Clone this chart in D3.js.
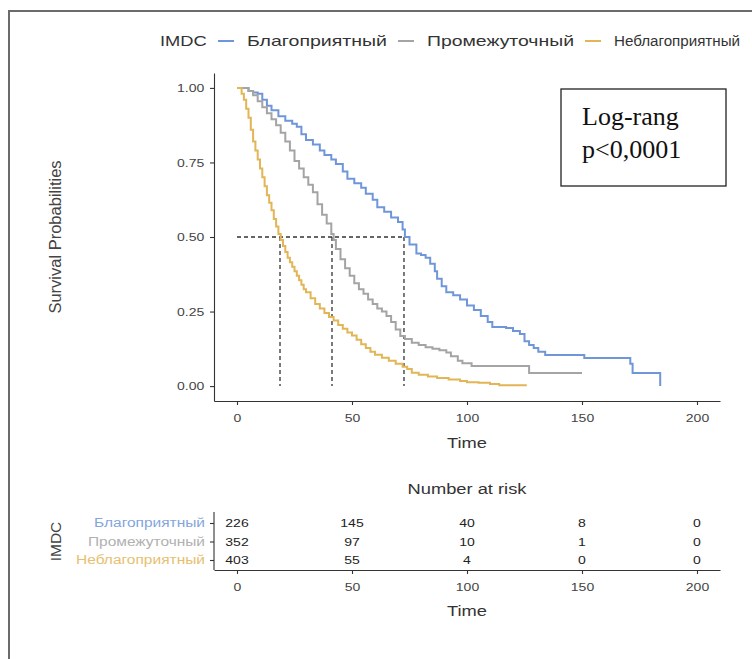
<!DOCTYPE html>
<html>
<head>
<meta charset="utf-8">
<script src="https://cdn.jsdelivr.net/npm/d3@7"></script>
<style>
  body { margin: 0; background: #fff; }
  svg { font-family: "Liberation Sans", Arial, sans-serif; }
</style>
</head>
<body>
<div id="chart"></div>
<script>
const groups = ["Благоприятный", "Промежуточный", "Неблагоприятный"];
const colors = ["#6f96d8", "#a4a4a4", "#e2b556"];

// Kaplan-Meier steps: [time, survival]
const favorable = [
  [0, 1], [2, 1], [5, 0.99], [7, 0.985], [9, 0.98], [11, 0.96], [13, 0.94], [15, 0.925],
  [18, 0.905], [21, 0.89], [24, 0.88], [26, 0.87], [28, 0.845], [30, 0.825], [33, 0.81],
  [36, 0.79], [38, 0.775], [41, 0.76], [43, 0.745], [46, 0.72], [48, 0.695], [51, 0.68],
  [54, 0.665], [56, 0.645], [59, 0.625], [61, 0.6], [64, 0.585], [67, 0.565], [70, 0.55],
  [72, 0.525], [73, 0.5], [75, 0.475], [78, 0.445], [80, 0.44], [82, 0.43], [84, 0.41],
  [86, 0.385], [87, 0.36], [89, 0.335], [91, 0.315], [94, 0.305], [97, 0.29], [100, 0.27],
  [103, 0.255], [106, 0.235], [109, 0.215], [111, 0.198], [117, 0.195], [120, 0.185],
  [123, 0.175], [125, 0.15], [127, 0.138], [129, 0.128], [131, 0.115], [134, 0.104],
  [151, 0.094], [171, 0.075], [172, 0.044], [184, 0]
];
const intermediate = [
  [0, 1], [3, 1], [5, 0.99], [7, 0.975], [9, 0.955], [11, 0.935], [13, 0.915], [15, 0.895],
  [17, 0.875], [19, 0.85], [21, 0.82], [23, 0.79], [25, 0.755], [27, 0.73], [29, 0.7],
  [31, 0.675], [33, 0.65], [35, 0.61], [37, 0.575], [39, 0.545], [41, 0.51], [42, 0.49],
  [43, 0.46], [45, 0.425], [47, 0.395], [49, 0.37], [51, 0.345], [53, 0.325], [55, 0.31],
  [57, 0.29], [59, 0.275], [61, 0.26], [63, 0.25], [65, 0.235], [67, 0.215], [69, 0.19],
  [71, 0.168], [73, 0.158], [76, 0.145], [79, 0.138], [82, 0.13], [85, 0.125], [88, 0.12],
  [91, 0.113], [93, 0.1], [96, 0.085], [98, 0.077], [102, 0.067], [127, 0.044], [150, 0.044]
];
const poor = [
  [0, 1], [2, 0.98], [3, 0.96], [4, 0.93], [5, 0.9], [6, 0.86], [7, 0.82], [8, 0.79],
  [9, 0.76], [10, 0.73], [11, 0.7], [12, 0.67], [13, 0.64], [14, 0.615], [15, 0.59],
  [16, 0.56], [17, 0.535], [18, 0.51], [19, 0.49], [20, 0.47], [21, 0.45], [22, 0.43],
  [23, 0.415], [24, 0.4], [25, 0.385], [26, 0.37], [27, 0.355], [28, 0.34], [29, 0.325],
  [30, 0.315], [32, 0.295], [34, 0.275], [36, 0.26], [38, 0.245], [40, 0.232], [42, 0.22],
  [44, 0.205], [46, 0.192], [48, 0.18], [50, 0.17], [52, 0.155], [54, 0.14], [56, 0.128],
  [58, 0.115], [60, 0.105], [63, 0.095], [66, 0.085], [69, 0.075], [72, 0.065], [74, 0.057],
  [76, 0.045], [79, 0.038], [83, 0.032], [87, 0.027], [92, 0.022], [97, 0.017], [100, 0.013],
  [105, 0.011], [110, 0.007], [114, 0.003], [126, 0.003]
];
const curves = [favorable, intermediate, poor];
const medians = [72.6, 41.3, 18.7];

const riskTimes = [0, 50, 100, 150, 200];
const atRisk = [
  [226, 145, 40, 8, 0],
  [352, 97, 10, 1, 0],
  [403, 55, 4, 0, 0]
];
const xTicks = [0, 50, 100, 150, 200];
const yTicks = [0, 0.25, 0.5, 0.75, 1];

const width = 752, height = 659;
const SX = 1.22; // the picture is a bit wider than tall, text looks stretched

const svg = d3.select("#chart").append("svg")
  .attr("width", width).attr("height", height);

// text stretched horizontally, anchored at (x, y)
const stext = (parent, x, y, str, size, anchor = "start") =>
  parent.append("text")
    .attr("transform", `translate(${x},${y}) scale(${SX},1)`)
    .attr("font-size", size)
    .attr("text-anchor", anchor)
    .attr("fill", "#333")
    .text(str);

// frame around the figure
svg.append("path")
  .attr("d", "M9,659 L9,11 L752,11")
  .attr("fill", "none").attr("stroke", "#6b6b6b").attr("stroke-width", 2);

const x = d3.scaleLinear().domain([-10, 210]).range([214, 720]);
const y = d3.scaleLinear().domain([-0.05, 1.05]).range([401, 73]);

// legend
const legend = svg.append("g");
stext(legend, 160, 46, "IMDC", 15);
const legX = [218, 398, 585];
const legLen = [140, 147, 126];
const legSize = [15, 15, 14];
groups.forEach((g, i) => {
  legend.append("line")
    .attr("x1", legX[i]).attr("x2", legX[i] + 16)
    .attr("y1", 41).attr("y2", 41)
    .attr("stroke", colors[i]).attr("stroke-width", 2);
  legend.append("text")
    .attr("x", legX[i] + 29).attr("y", 46)
    .attr("font-size", legSize[i])
    .attr("fill", "#333")
    .attr("textLength", legLen[i])
    .attr("lengthAdjust", "spacingAndGlyphs")
    .text(g);
});

// axes
const axisStyle = (g) => {
  g.select(".domain").attr("stroke", "#333").attr("stroke-width", 1.1);
  g.selectAll(".tick line").attr("stroke", "#333").attr("stroke-width", 1.1);
  g.selectAll(".tick text").attr("fill", "#444").attr("font-size", 11.5)
    .attr("font-family", "Liberation Sans, Arial, sans-serif")
    .attr("transform", `scale(${SX},1)`);
};

svg.append("g")
  .attr("transform", "translate(0,401)")
  .call(d3.axisBottom(x).tickValues(xTicks).tickSize(4).tickPadding(9).tickSizeOuter(0))
  .call(axisStyle);

svg.append("g")
  .attr("transform", "translate(214,0)")
  .call(d3.axisLeft(y).tickValues(yTicks).tickFormat(d3.format(".2f")).tickSize(4).tickPadding(4).tickSizeOuter(0))
  .call(axisStyle);

stext(svg, x(100), 448, "Time", 15, "middle");

svg.append("text")
  .attr("transform", `translate(61,${y(0.5)}) rotate(-90)`)
  .attr("text-anchor", "middle").attr("font-size", 16.5).attr("fill", "#444")
  .text("Survival Probabilities");

// median guide lines
const dash = svg.append("g")
  .attr("stroke", "#333").attr("stroke-width", 1.3).attr("stroke-dasharray", "4,3").attr("fill", "none");
dash.append("line")
  .attr("x1", x(0)).attr("x2", x(d3.max(medians)))
  .attr("y1", y(0.5)).attr("y2", y(0.5));
medians.forEach((m) => {
  dash.append("line")
    .attr("x1", x(m)).attr("x2", x(m))
    .attr("y1", y(0.5)).attr("y2", y(0));
});

// survival curves
const line = d3.line()
  .curve(d3.curveStepAfter)
  .x((d) => x(d[0]))
  .y((d) => y(d[1]));

curves.forEach((c, i) => {
  svg.append("path")
    .datum(c)
    .attr("fill", "none")
    .attr("stroke", colors[i])
    .attr("stroke-width", 2)
    .attr("d", line);
});

// log-rank box
svg.append("rect")
  .attr("x", 561).attr("y", 89).attr("width", 165).attr("height", 97)
  .attr("fill", "#fff").attr("stroke", "#222").attr("stroke-width", 1.3);
const lr = svg.append("g")
  .attr("font-family", "Liberation Serif, Times New Roman, serif")
  .attr("font-size", 26).attr("fill", "#111");
lr.append("text").attr("x", 582).attr("y", 125).text("Log-rang");
lr.append("text").attr("x", 582).attr("y", 158).text("p<0,0001");

// risk table
stext(svg, x(100), 494, "Number at risk", 15, "middle");

const ry = d3.scalePoint().domain(groups).range([523, 560]);

svg.append("g")
  .attr("transform", "translate(0,570)")
  .call(d3.axisBottom(x).tickValues(xTicks).tickSize(4).tickPadding(9).tickSizeOuter(0))
  .call(axisStyle);

const rowLen = [111, 117, 129];
const ryAxis = svg.append("g")
  .attr("transform", "translate(214,0)")
  .call(d3.axisLeft(ry).tickSize(4).tickPadding(5).tickSizeOuter(0));
ryAxis.select(".domain").attr("d", "M0,512V570").attr("stroke", "#333").attr("stroke-width", 1.1);
ryAxis.selectAll(".tick line").attr("stroke", "#333").attr("stroke-width", 1.1);
ryAxis.selectAll(".tick text")
  .attr("font-size", 12)
  .attr("font-family", "Liberation Sans, Arial, sans-serif")
  .attr("fill", (d, i) => colors[i])
  .attr("opacity", 0.85)
  .attr("textLength", (d, i) => rowLen[i])
  .attr("lengthAdjust", "spacingAndGlyphs");

const cells = svg.append("g");
atRisk.forEach((row, i) => {
  row.forEach((v, j) => {
    stext(cells, x(riskTimes[j]), ry(groups[i]) + 4, v, 11.5, "middle").attr("fill", "#222");
  });
});

stext(svg, x(100), 616, "Time", 15, "middle");

svg.append("text")
  .attr("transform", `translate(61,${ry(groups[1])}) rotate(-90)`)
  .attr("text-anchor", "middle").attr("font-size", 15.5).attr("fill", "#444")
  .text("IMDC");
</script>
</body>
</html>
